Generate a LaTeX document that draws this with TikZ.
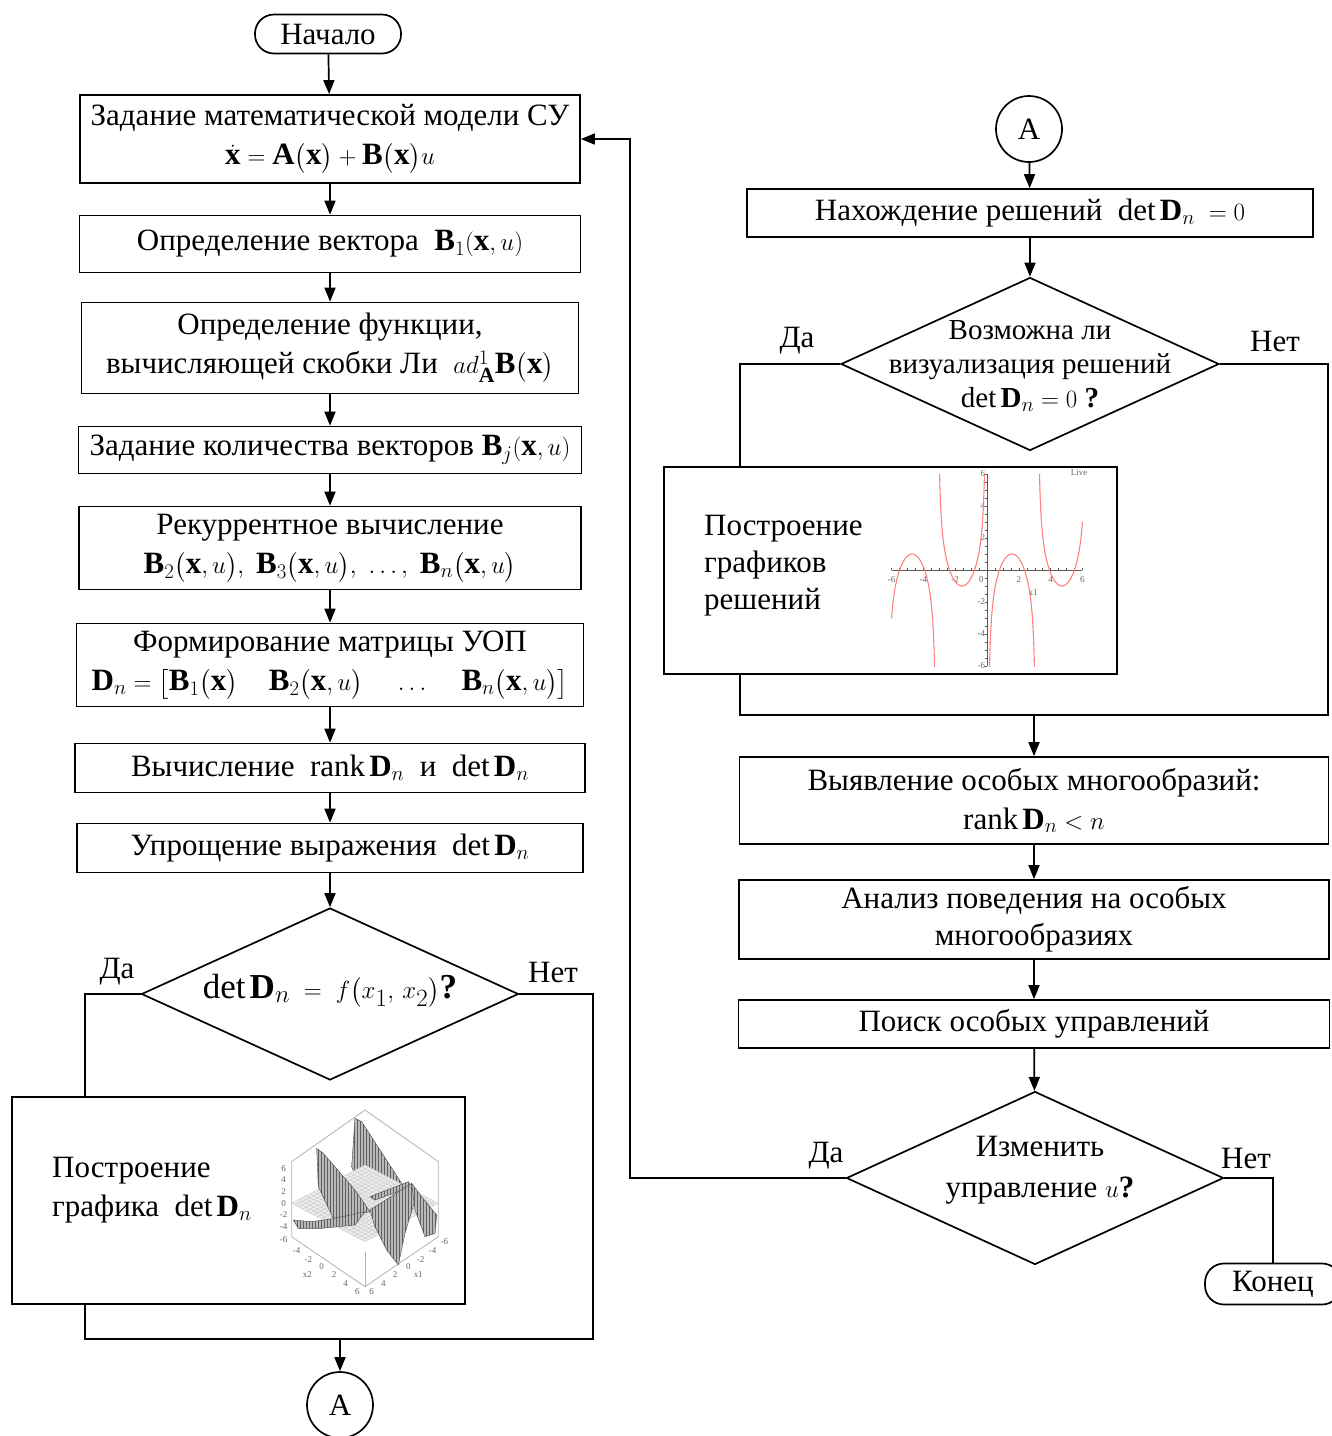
\documentclass[tikz,border=0pt]{standalone}
\usepackage{amsmath}
\usepackage{fontspec}
\setmainfont{Liberation Serif}
\usetikzlibrary{arrows.meta,shapes.geometric,calc,patterns}

\tikzset{
  block/.style = {draw, line width=1.7pt, rectangle, align=center, inner sep=0pt},
  decision/.style = {draw, line width=1.7pt, diamond, inner sep=0pt},
  term/.style = {draw, line width=1.7pt, rectangle, rounded corners=19pt, inner sep=0pt},
  conn/.style = {draw, line width=1.7pt, circle, inner sep=0pt, minimum size=66pt},
  line/.style = {line width=1.7pt},
  arrow/.style = {line width=1.7pt, -{Triangle[length=14pt,width=11pt]}},
  tick/.style = {font=\fontsize{9}{10}\selectfont, text=gray!80!black, inner sep=0pt},
  sheet/.style = {preaction={fill=gray!55}, pattern=vertical lines, pattern color=gray!75!black,
                  draw=gray!60!black, line width=0.4pt},
}

\begin{document}
\begin{tikzpicture}[x = 1pt, y = -1pt, font=\fontsize{31}{39}\selectfont]
  \useasboundingbox (0,0) rectangle (1332,1436);

  % left column
  \node[term, minimum width=146pt, minimum height=39pt] (start) at (328,34) {Начало};
  \node[block, minimum width=500pt, minimum height=88pt] (b1) at (330,139)
    {Задание математической модели СУ\\
     $\dot{\mathbf{x}} = \mathbf{A}\bigl(\mathbf{x}\bigr) + \mathbf{B}\bigl(\mathbf{x}\bigr)u$};
  \node[block, minimum width=501pt, minimum height=57pt] (b2) at (330,244)
    {Определение вектора\ \ $\mathbf{B}_1(\mathbf{x},u)$};
  \node[block, minimum width=497pt, minimum height=91pt] (b3) at (330,348)
    {Определение функции,\\ вычисляющей скобки Ли\ \ $ad_{\mathbf{A}}^{1}\mathbf{B}\bigl(\mathbf{x}\bigr)$};
  \node[block, minimum width=503pt, minimum height=47pt] (b4) at (330,450)
    {Задание количества векторов $\mathbf{B}_j(\mathbf{x},u)$};
  \node[block, minimum width=502pt, minimum height=83pt] (b5) at (330,548)
    {Рекуррентное вычисление\\
     $\mathbf{B}_2\bigl(\mathbf{x},u\bigr),\ \mathbf{B}_3\bigl(\mathbf{x},u\bigr),\ \ldots,\ \mathbf{B}_n\bigl(\mathbf{x},u\bigr)$};
  \node[block, minimum width=507pt, minimum height=83pt] (b6) at (330,665)
    {Формирование матрицы УОП\\
     $\mathbf{D}_n = \bigl[\mathbf{B}_1\bigl(\mathbf{x}\bigr)\quad \mathbf{B}_2\bigl(\mathbf{x},u\bigr)\quad \ldots\quad \mathbf{B}_n\bigl(\mathbf{x},u\bigr)\bigr]$};
  \node[block, minimum width=510pt, minimum height=49pt] (b7) at (330,768)
    {Вычисление\ \ $\mathop{\mathrm{rank}}\mathbf{D}_n$\ \ и\ \ $\det\mathbf{D}_n$};
  \node[block, minimum width=506pt, minimum height=49pt] (b8) at (330,848)
    {Упрощение выражения\ \ $\det\mathbf{D}_n$};
  \node[decision, minimum width=377pt, minimum height=172pt] (q1) at (330,994) {};
  \node[font=\fontsize{35}{40}\selectfont] (q1t) at (330,991)
    {$\det\mathbf{D}_n\;=\;f\bigl(x_1,\,x_2\bigr)$\textbf{?}};
  \node (q1y) at (117,972) {Да};
  \node (q1n) at (553,972) {Нет};
  \node[block, minimum width=453pt, minimum height=207pt] (p1) at (238.5,1200.5) {};
  \node[anchor=west, align=left, inner sep=0pt] (p1t) at (52,1190)
    {Построение\\ графика\ \ $\det\mathbf{D}_n$};
  \node[conn] (a1) at (340,1405) {A};
  \coordinate (ya) at (85,1339);
  \coordinate (na) at (593,1339);

  % right column
  \node[conn] (a2) at (1029,129) {A};
  \node[block, minimum width=566pt, minimum height=48pt] (r1) at (1030,213)
    {Нахождение решений\ \ $\det\mathbf{D}_n\;=0$};
  \node[decision, minimum width=378pt, minimum height=173pt] (q2) at (1030,364) {};
  \node[align=center, inner sep=0pt, font=\fontsize{29}{34}\selectfont] (q2t) at (1030,366)
    {Возможна ли\\ визуализация решений\\ $\det\mathbf{D}_n = 0$ \textbf{?}};
  \node (q2y) at (797,341) {Да};
  \node (q2n) at (1275,341) {Нет};
  \node[block, minimum width=453pt, minimum height=207pt] (p2) at (890.5,570.5) {};
  \node[anchor=west, align=left, inner sep=0pt, font=\fontsize{31}{37}\selectfont] (p2t) at (704,566)
    {Построение\\ графиков\\ решений};
  \coordinate (yb) at (740,715);
  \coordinate (nb) at (1328,715);
  \node[block, minimum width=589pt, minimum height=87pt] (r2) at (1034,800.5)
    {Выявление особых многообразий:\\ $\mathop{\mathrm{rank}}\mathbf{D}_n < n$};
  \node[block, minimum width=590pt, minimum height=79pt, font=\fontsize{31}{37}\selectfont] (r3) at (1034,919.5)
    {Анализ поведения на особых\\ многообразиях};
  \node[block, minimum width=591pt, minimum height=48pt] (r4) at (1034,1024)
    {Поиск особых управлений};
  \node[decision, minimum width=377pt, minimum height=173pt] (q3) at (1035,1178) {};
  \node[align=center, inner sep=0pt, font=\fontsize{31}{41}\selectfont] (q3t) at (1040,1170)
    {Изменить\\ управление $u$\textbf{?}};
  \node (q3y) at (826,1156) {Да};
  \node (q3n) at (1246,1158) {Нет};
  \node[term, minimum width=136pt, minimum height=41pt] (end) at (1273,1284) {Конец};
  \coordinate (fb) at (630,0);

  % connectors
  \draw[arrow] (start) -- (b1);
  \draw[arrow] (b1) -- (b2);
  \draw[arrow] (b2) -- (b3);
  \draw[arrow] (b3) -- (b4);
  \draw[arrow] (b4) -- (b5);
  \draw[arrow] (b5) -- (b6);
  \draw[arrow] (b6) -- (b7);
  \draw[arrow] (b7) -- (b8);
  \draw[arrow] (b8) -- (q1);
  \draw[line] (q1.west) -| (p1.north -| ya);
  \draw[line] (p1.south -| ya) -- (ya) -- (na) |- (q1.east);
  \draw[arrow] (ya -| a1) -- (a1);

  \draw[arrow] (a2) -- (r1);
  \draw[arrow] (r1) -- (q2);
  \draw[line] (q2.west) -| (p2.north -| yb);
  \draw[line] (p2.south -| yb) -- (yb) -- (nb) |- (q2.east);
  \draw[arrow] (yb -| r2) -- (r2);
  \draw[arrow] (r2) -- (r3);
  \draw[arrow] (r3) -- (r4);
  \draw[arrow] (r4) -- (q3);
  \draw[arrow] (q3.west) -- (q3.west -| fb) |- (b1.east);
  \draw[line] (q3.east) -| (end.north);

  % plot of the solutions
  \begin{scope}[shift={(987,570)}, xscale=15.9, yscale=-16]
    \draw[line width=0.7pt, gray!70!black] (-6,0) -- (6,0);
    \draw[line width=0.7pt, gray!70!black] (0,-6) -- (0,6);
    \foreach \t in {-6,-5.5,...,6} {
      \draw[line width=0.4pt, gray!70!black] (\t,0) -- (\t,0.15);
      \draw[line width=0.4pt, gray!70!black] (0,\t) -- (-0.12,\t);
    }
    \foreach \t in {-6,-4,-2,2,4,6} {
      \node[tick] at (\t,-0.6) {\t};
      \node[tick, anchor=east] at (-0.1,\t) {\t};
    }
    \node[tick] at (-0.35,-0.6) {0};
    \node[tick] at (2.9,-1.4) {x1};
    \node[tick] at (5.8,6.1) {Live};
    \clip (-6.2,-6) rectangle (6.2,6);
    \foreach \a/\b in {-6/-3.2916, -2.9916/-0.15, 0.15/2.9916, 3.2916/6}
      \draw[red!50, line width=1.1pt] plot[domain=\a:\b, samples=90, smooth]
        (\x, {2*sin(\x r) - 1/sin(\x r)});
  \end{scope}

  % surface plot of det D_n
  \begin{scope}[shift={(255,1100)}, scale=1/3]
    \draw[gray!60, line width=0.8pt] (110,185) -- (330,30) -- (550,185) -- (550,410)
      -- (330,560) -- (110,410) -- cycle;
    \draw[gray!60, line width=0.8pt] (330,455) -- (330,560);
    \draw[sheet] (300,55) -- (320,65) -- (440,250) -- (410,290) -- (355,330)
      -- (330,300) -- (290,200) -- cycle;
    \fill[gray!15] (110,310) -- (330,195) -- (550,310) -- (330,425) -- cycle;
    \foreach \t in {0,0.05,...,1.01} {
      \draw[gray!50, line width=0.3pt] ($(110,310)!\t!(330,195)$) -- ($(330,425)!\t!(550,310)$);
      \draw[gray!50, line width=0.3pt] ($(110,310)!\t!(330,425)$) -- ($(330,195)!\t!(550,310)$);
    }
    \draw[sheet] (185,145) -- (205,160) -- (300,270) -- (345,335) -- (300,345)
      -- (235,355) -- (190,260) -- cycle;
    \draw[sheet] (345,290) -- (460,245) -- (470,260) -- (360,300) -- cycle;
    \draw[sheet] (345,330) -- (470,250) -- (480,300) -- (450,400) -- (430,495)
      -- (395,450) -- (360,380) -- cycle;
    \draw[sheet] (470,250) -- (500,290) -- (545,345) -- (540,400) -- (510,410)
      -- (480,330) -- cycle;
    \draw[sheet] (115,360) -- (170,365) -- (240,355) -- (330,335) -- (300,375)
      -- (200,385) -- (130,385) -- cycle;
    \foreach \v/\y in {6/205,4/240,2/275,0/310,-2/345,-4/380,-6/420}
      \node[tick] at (86,\y) {\v};
    \foreach \v/\x/\y in {-4/125/452,-2/160/478,0/200/500,2/237/525,4/272/550,6/307/575}
      \node[tick] at (\x,\y) {\v};
    \foreach \v/\x/\y in {-6/568/425,-4/533/452,-2/497/478,0/460/500,2/420/525,4/385/550,6/350/575}
      \node[tick] at (\x,\y) {\v};
    \node[tick] at (157,525) {x2};
    \node[tick] at (490,525) {x1};
  \end{scope}
\end{tikzpicture}
\end{document}
